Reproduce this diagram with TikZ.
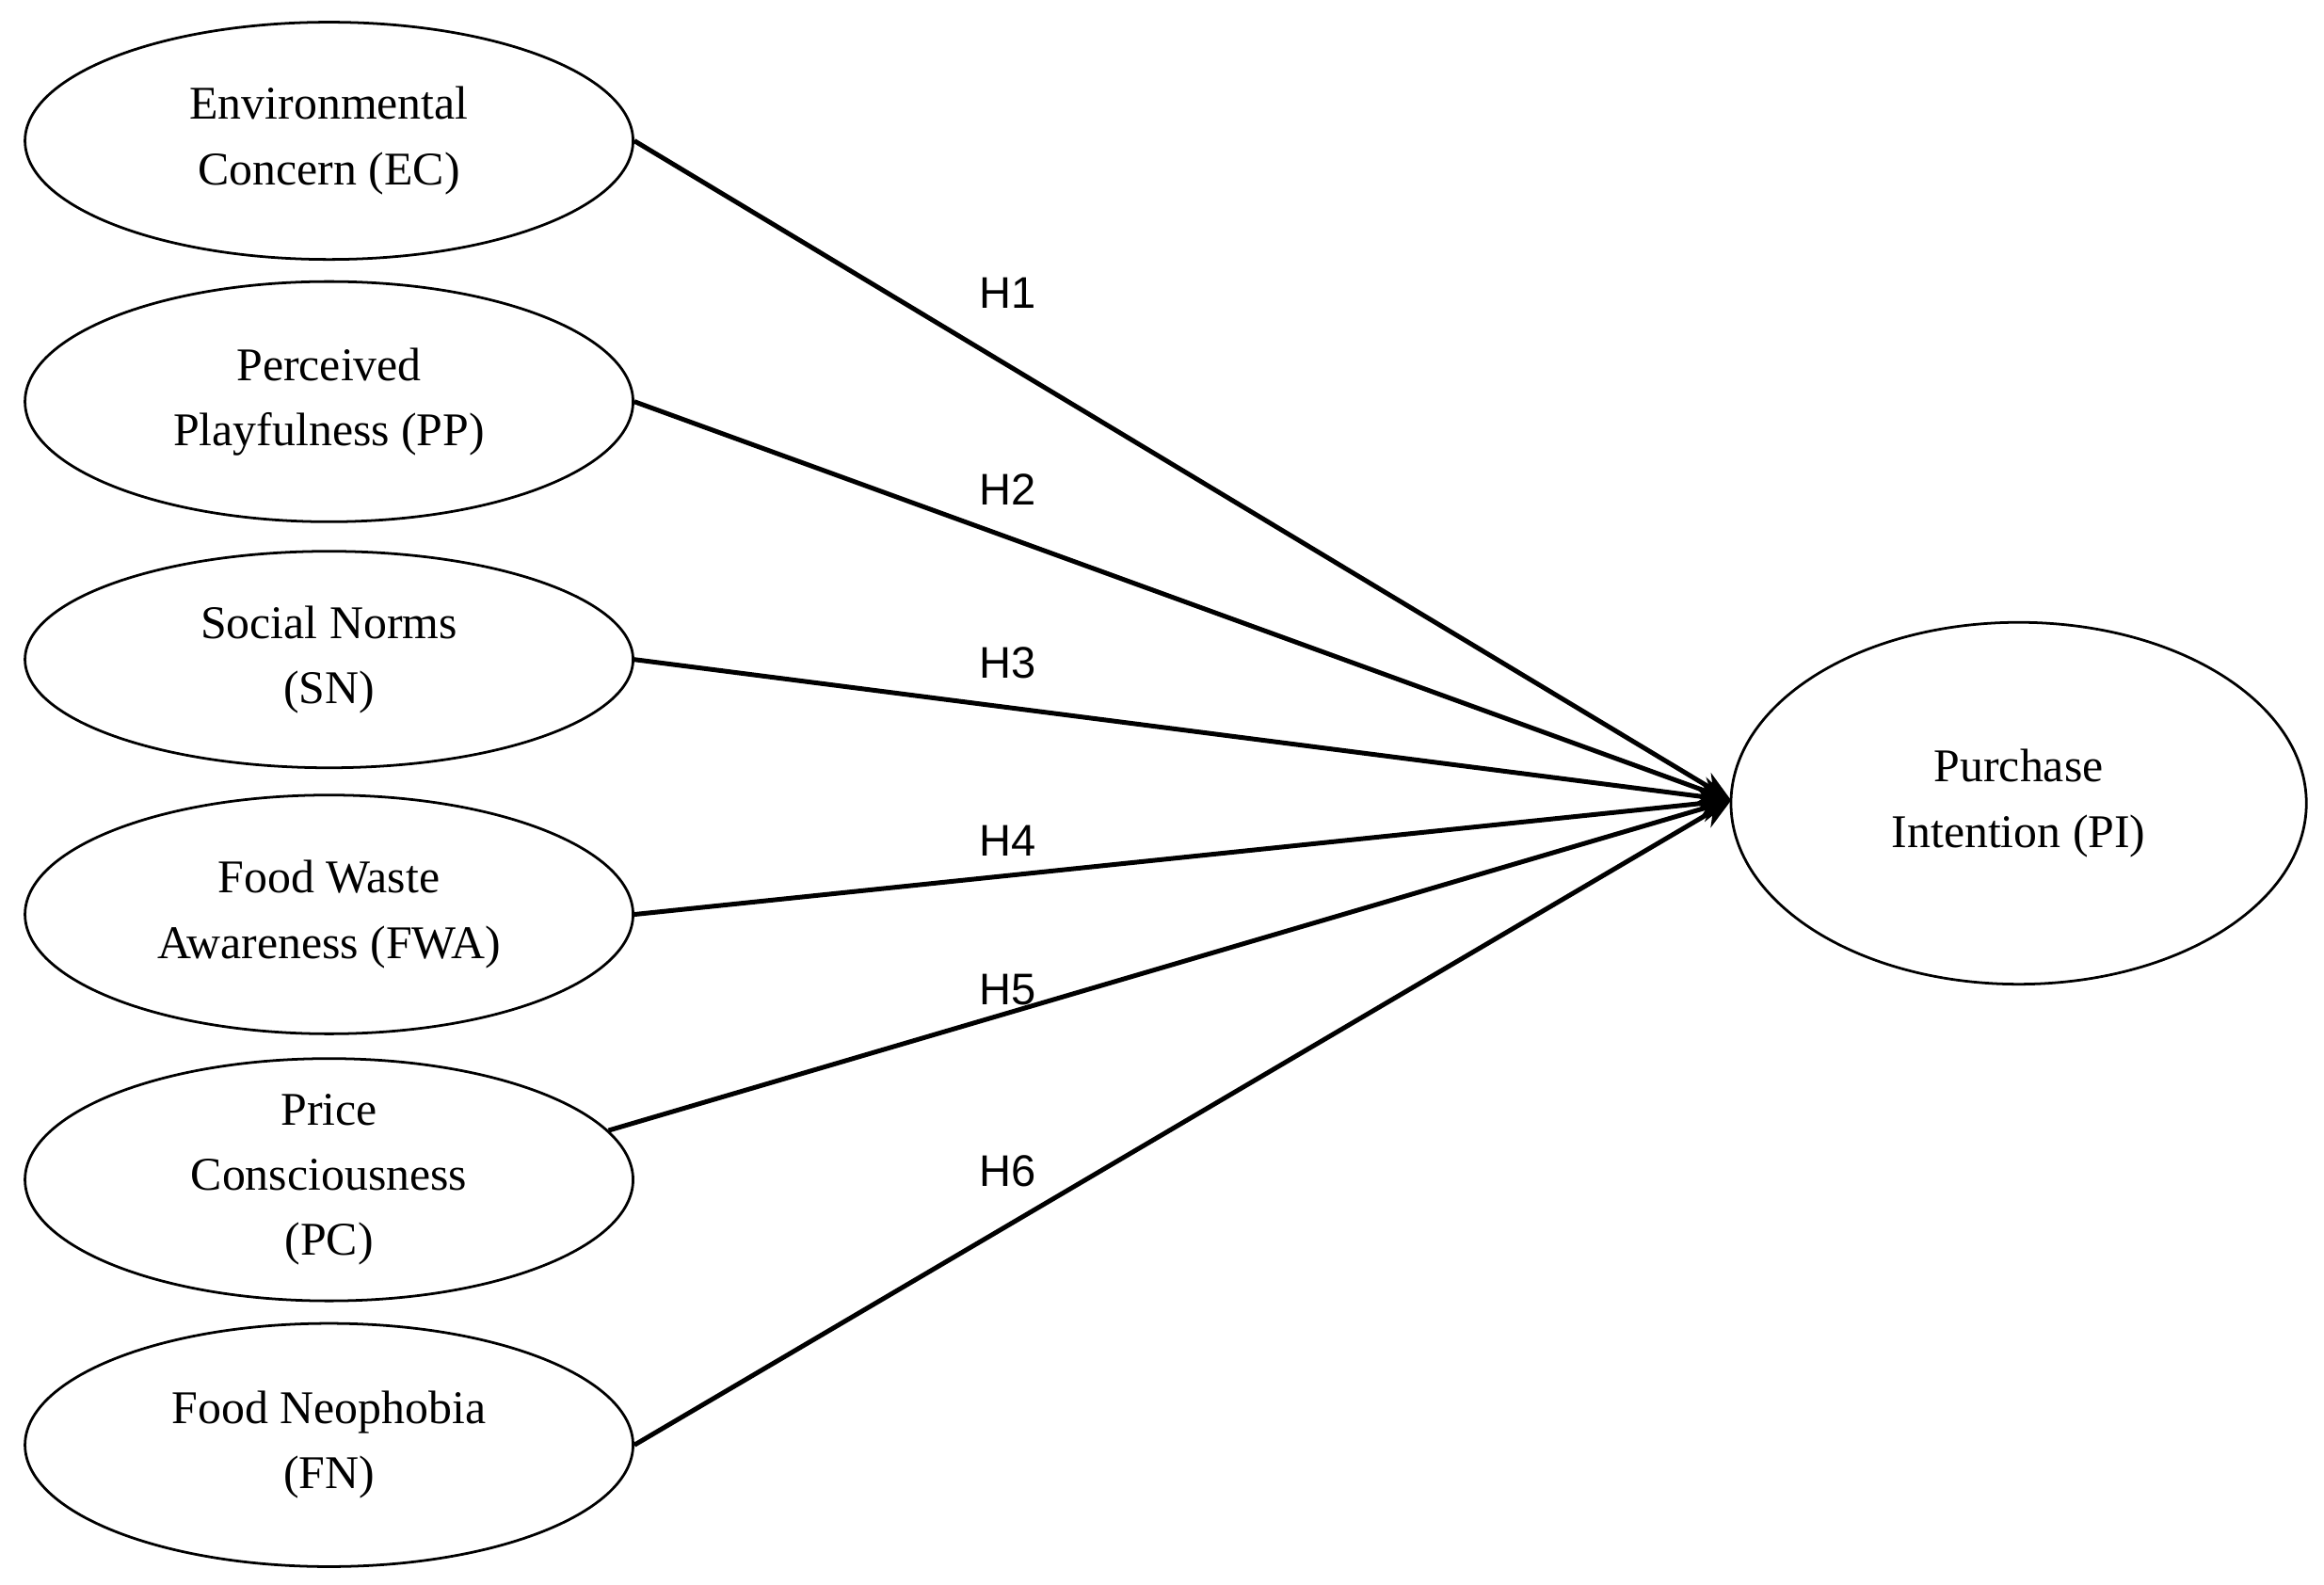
\documentclass[tikz,border=0pt]{standalone}
\usepackage{fontspec}
\setmainfont{Liberation Serif}
\newfontfamily\hfont{Liberation Sans}
\begin{document}
\begin{tikzpicture}[x=0.01cm,y=-0.01cm,
  el/.style={draw,ellipse,line width=0.5pt,minimum width=4.1cm,minimum height=1.6cm,align=center,font=\fontsize{9}{12.5}\selectfont,inner sep=0pt},
  hl/.style={font=\hfont\fontsize{8.5}{10}\selectfont},
  ar/.style={line width=0.9pt,-{Stealth[length=6pt,width=5pt]}}]
\useasboundingbox (0,0) rectangle (1568,1069);
\usetikzlibrary{shapes.geometric,arrows.meta}
\node[el] (ec) at (222,95) {Environmental\\Concern (EC)};
\node[el,minimum height=1.62cm] (pp) at (222,271) {Perceived\\Playfulness (PP)};
\node[el,minimum height=1.46cm] (sn) at (222,445) {Social Norms\\(SN)};
\node[el,minimum height=1.61cm] (fwa) at (222,617) {Food Waste\\Awareness (FWA)};
\node[el,minimum height=1.62cm] (pc) at (222,796) {Price\\Consciousness\\(PC)};
\node[el,minimum height=1.64cm] (fn) at (222,975) {Food Neophobia\\(FN)};
\node[el,minimum width=3.88cm,minimum height=2.44cm] (pi) at (1362,542) {Purchase\\Intention (PI)};
\coordinate (t) at (1168,540);
\draw[ar] (ec.east) -- (t);
\draw[ar] (pp.east) -- (t);
\draw[ar] (sn.east) -- (t);
\draw[ar] (fwa.east) -- (t);
\draw[ar] (pc.10) -- (t);
\draw[ar] (fn.east) -- (t);
\node[hl] (h1) at (680,198) {H1};
\node[hl] (h2) at (680,330) {H2};
\node[hl] (h3) at (680,447) {H3};
\node[hl] (h4) at (680,567) {H4};
\node[hl] (h5) at (680,668) {H5};
\node[hl] (h6) at (680,790) {H6};
\end{tikzpicture}
\end{document}
